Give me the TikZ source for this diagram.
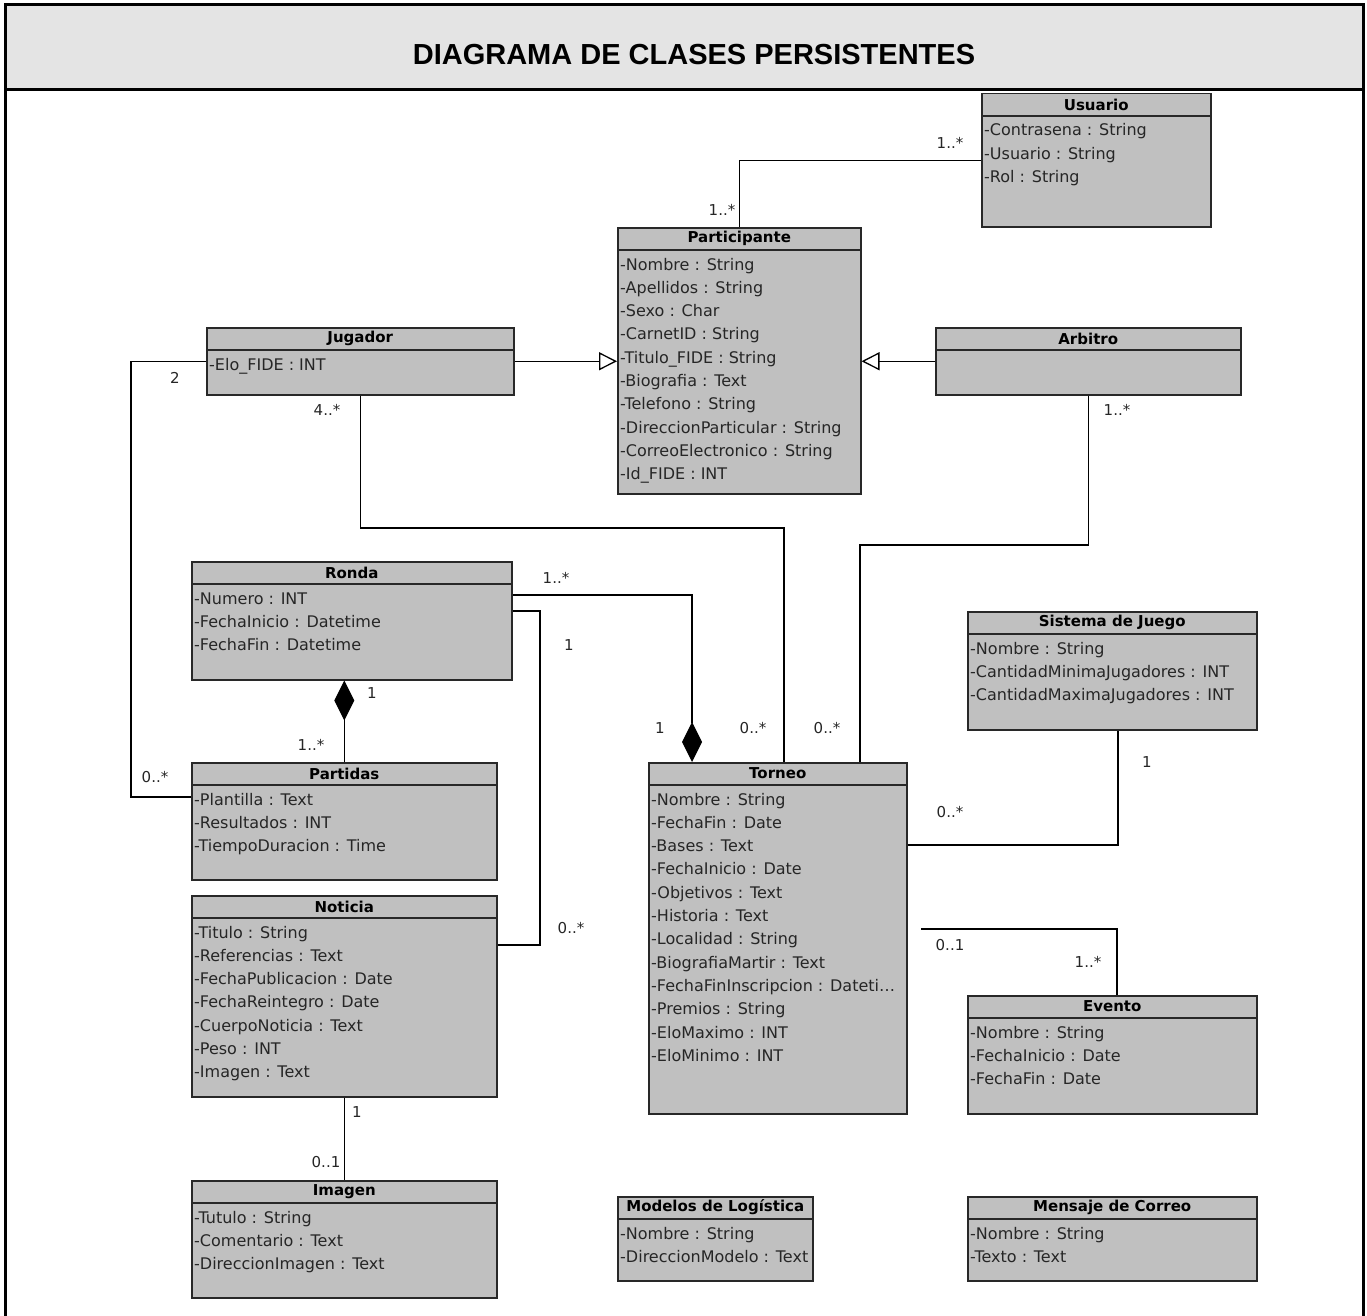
\documentclass[tikz,border=0pt]{standalone}
\usepackage{fontspec}
\newfontfamily\umlfont{DejaVu Sans}
\newfontfamily\headfont{Liberation Sans}
\usetikzlibrary{arrows.meta}
\definecolor{clsgray}{RGB}{192,192,192}
\definecolor{bandgray}{RGB}{228,228,228}
\definecolor{edgegray}{RGB}{40,40,40}
\tikzset{
  clsbox/.style={draw=edgegray, fill=clsgray, line width=1.5pt, inner sep=0pt, rectangle},
  clsedge/.style={draw=edgegray, line width=1.5pt},
  clstitle/.style={inner sep=0pt, font=\umlfont\bfseries\fontsize{15}{18}\selectfont},
  clsattr/.style={inner sep=0pt, font=\umlfont\fontsize{16}{19}\selectfont, text=black!85},
  mult/.style={inner sep=0pt, font=\umlfont\fontsize{15}{18}\selectfont, text=black!85},
  assoc/.style={draw=black, line width=1.3pt},
  genarrow/.style={assoc, -{Triangle[open, length=18pt, width=18pt, fill=white]}},
  comparrow/.style={assoc, -{Diamond[length=40pt, width=20pt]}},
}
\newcommand\umlclass[7]{%
  \node[clsbox, minimum width=#4pt, minimum height=#5pt, anchor=north west] (#1) at (#2,#3) {};
  \draw[clsedge] ([yshift=-23pt]#1.north west) -- ([yshift=-23pt]#1.north east);
  \node[clstitle] (#1-title) at ([yshift=-11.5pt]#1.north) {#6};
  \foreach \t [count=\i] in {#7} {%
    \node[clsattr, anchor=base west] (#1-a\i) at ([xshift=3pt, yshift={-19.7pt-\i*23.3pt}]#1.north west) {\t};
  }%
}
\begin{document}
\begin{tikzpicture}[x=1pt, y=-1pt]
\useasboundingbox (0,0) rectangle (1367,1316);
\fill[white] (0,0) rectangle (1367,1316);
% frame and title band
\fill[bandgray] (5,5) rectangle (1363,90);
\draw[line width=3pt] (5,1316) -- (5,5) -- (1363,5) -- (1363,1316);
\draw[line width=3pt] (5,90) -- (1363,90);
\node[inner sep=0pt, font=\headfont\bfseries\fontsize{29}{34}\selectfont] (maintitle) at (694,55) {DIAGRAMA DE CLASES PERSISTENTES};

% classes
\umlclass{usuario}{981}{93}{229}{133}{Usuario}{-Contrasena : String, -Usuario : String, -Rol : String}
\umlclass{participante}{617}{227}{243}{266}{Participante}{-Nombre : String, -Apellidos : String, -Sexo : Char, -CarnetID : String, -Titulo\_FIDE : String, -Biografia : Text, -Telefono : String, -DireccionParticular : String, -CorreoElectronico : String, -Id\_FIDE : INT}
\umlclass{jugador}{206}{327}{307}{67}{Jugador}{-Elo\_FIDE : INT}
\umlclass{arbitro}{935}{327}{305}{67}{Arbitro}{}
\umlclass{ronda}{191}{561}{320}{118}{Ronda}{-Numero : INT, -FechaInicio : Datetime, -FechaFin : Datetime}
\umlclass{partidas}{191}{762}{305}{117}{Partidas}{-Plantilla : Text, -Resultados : INT, -TiempoDuracion : Time}
\umlclass{noticia}{191}{895}{305}{201}{Noticia}{-Titulo : String, -Referencias : Text, -FechaPublicacion : Date, -FechaReintegro : Date, -CuerpoNoticia : Text, -Peso : INT, -Imagen : Text}
\umlclass{imagen}{191}{1180}{305}{117}{Imagen}{-Tutulo : String, -Comentario : Text, -DireccionImagen : Text}
\umlclass{torneo}{648}{762}{258}{351}{Torneo}{-Nombre : String, -FechaFin : Date, -Bases : Text, -FechaInicio : Date, -Objetivos : Text, -Historia : Text, -Localidad : String, -BiografiaMartir : Text, -FechaFinInscripcion : Dateti\ldots, -Premios : String, -EloMaximo : INT, -EloMinimo : INT}
\umlclass{sistema}{967}{611}{289}{118}{Sistema de Juego}{-Nombre : String, -CantidadMinimaJugadores : INT, -CantidadMaximaJugadores : INT}
\umlclass{evento}{967}{995}{289}{118}{Evento}{-Nombre : String, -FechaInicio : Date, -FechaFin : Date}
\umlclass{modelos}{617}{1196}{195}{84}{Modelos de Logística}{-Nombre : String, -DireccionModelo : Text}
\umlclass{mensaje}{967}{1196}{289}{84}{Mensaje de Correo}{-Nombre : String, -Texto : Text}

% bend points
\coordinate (jt) at (784,528);
\coordinate (at) at (860,545);
\coordinate (jp) at (131,797);
\coordinate (rt) at (692,595);
\coordinate (rn) at (540,611);
\coordinate (rn2) at (540,945);
\coordinate (ts) at (1118,845);
\coordinate (te) at (1117,929);
\coordinate (te0) at (921,929);

% connectors
\draw[assoc] (usuario.west) -| (participante.north);
\draw[genarrow] (jugador.east) -- (jugador.east -| participante.west);
\draw[genarrow] (arbitro.west) -- (arbitro.west -| participante.east);
\draw[assoc] (jugador.south) |- (jt) -- (jt |- torneo.north);
\draw[assoc] (arbitro.south) |- (at) -- (at |- torneo.north);
\draw[assoc] (jugador.west) -| (jp) -- (jp -| partidas.west);
\draw[comparrow] (rt -| ronda.east) -- (rt) -- (rt |- torneo.north);
\draw[assoc] (rn -| ronda.east) -- (rn) -- (rn2) -- (rn2 -| noticia.east);
\draw[comparrow] (partidas.north) -- (partidas.north |- ronda.south);
\draw[assoc] (ts -| torneo.east) -- (ts) -- (ts |- sistema.south);
\draw[assoc] (te0) -- (te) -- (te |- evento.north);
\draw[assoc] (noticia.south) -- (imagen.north);

% multiplicities
\node[mult] (m1) at (950,143) {1..*};
\node[mult] (m2) at (722,210) {1..*};
\node[mult] (m3) at (175,378) {2};
\node[mult] (m4) at (327,410) {4..*};
\node[mult] (m5) at (1117,410) {1..*};
\node[mult] (m6) at (556,578) {1..*};
\node[mult] (m7) at (569,645) {1};
\node[mult] (m8) at (372,693) {1};
\node[mult] (m9) at (311,745) {1..*};
\node[mult] (m10) at (660,728) {1};
\node[mult] (m11) at (753,728) {0..*};
\node[mult] (m12) at (827,728) {0..*};
\node[mult] (m13) at (155,777) {0..*};
\node[mult] (m14) at (1147,762) {1};
\node[mult] (m15) at (950,812) {0..*};
\node[mult] (m16) at (571,928) {0..*};
\node[mult] (m17) at (950,945) {0..1};
\node[mult] (m18) at (1088,962) {1..*};
\node[mult] (m19) at (357,1112) {1};
\node[mult] (m20) at (326,1162) {0..1};
\end{tikzpicture}
\end{document}
